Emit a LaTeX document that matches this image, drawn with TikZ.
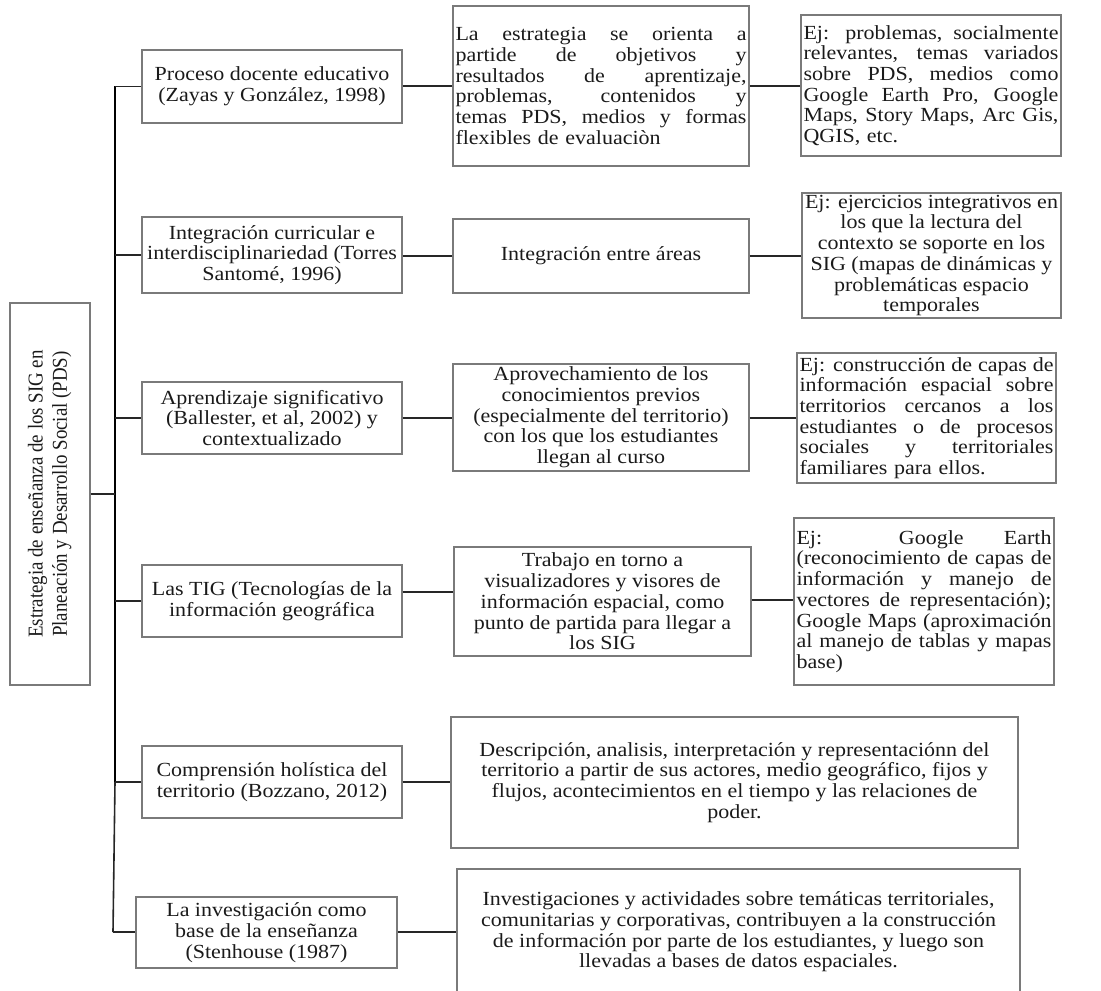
\documentclass[tikz,border=0pt]{standalone}
\usepackage{fontspec}
\usepackage{graphicx}
\setmainfont{Liberation Serif}[FakeStretch=1.1]
\newfontfamily\vfont{Liberation Serif}
\definecolor{boxgray}{HTML}{7A7A7A}
\definecolor{txt}{HTML}{1A1A1A}
\definecolor{linkc}{HTML}{262626}
\newcommand\jl[1]{\makebox[\hsize][s]{\spaceskip=0pt\xspaceskip=0pt #1}\\}
\tikzset{
  box/.style={draw=boxgray, line width=1.1pt, inner xsep=3pt, inner ysep=2pt,
    text=txt, font=\fontsize{20}{20.7}\selectfont, anchor=center, align=center},
  jbox/.style={box, inner xsep=2pt, align=left},
  link/.style={draw=linkc, line width=1.6pt},
  trunkline/.style={draw=black, line width=2.6pt}
}
\begin{document}
\begin{tikzpicture}[x=1pt,y=-1pt]
\useasboundingbox (0,0) rectangle (1101,991);
% root
\node[box, rotate=90, minimum width=382pt, minimum height=80pt,
  font=\vfont\fontsize{18.9}{21.6}\selectfont] (root) at (50,494)
  {\scalebox{1}[1.12]{\begin{tabular}{@{}c@{}}Estrategia de enseñanza de los SIG en\\Planeación y Desarrollo Social (PDS)\end{tabular}}};
% column 1
\node[box, minimum width=260pt, minimum height=73pt] (a1) at (272,86.5)
  {Proceso docente educativo\\(Zayas y González, 1998)};
\node[box, minimum width=260pt, minimum height=76pt] (a2) at (272,255)
  {Integración curricular e\\interdisciplinariedad (Torres\\Santomé, 1996)};
\node[box, minimum width=260pt, minimum height=72pt] (a3) at (272,418)
  {Aprendizaje significativo\\(Ballester, et al, 2002) y\\contextualizado};
\node[box, minimum width=260pt, minimum height=72pt] (a4) at (272,601)
  {Las TIG (Tecnologías de la\\información geográfica};
\node[box, minimum width=260pt, minimum height=72pt] (a5) at (272,782)
  {Comprensión holística del\\territorio (Bozzano, 2012)};
\node[box, minimum width=261pt, minimum height=71pt] (a6) at (266.5,932.5)
  {La investigación como\\base de la enseñanza\\(Stenhouse (1987)};
% column 2
\node[jbox, minimum width=296pt, minimum height=160pt, text width=291pt] (b1) at (601,86)
  {\jl{La estrategia se orienta a}
   \jl{partide de objetivos y}
   \jl{resultados de aprentizaje,}
   \jl{problemas, contenidos y}
   \jl{temas PDS, medios y formas}
   flexibles de evaluaciòn};
\node[box, minimum width=296pt, minimum height=74pt] (b2) at (601,256)
  {Integración entre áreas};
\node[box, minimum width=296pt, minimum height=107pt] (b3) at (601,417.5)
  {Aprovechamiento de los\\conocimientos previos\\(especialmente del territorio)\\con los que los estudiantes\\llegan al curso};
\node[box, minimum width=297pt, minimum height=109pt] (b4) at (602.5,601.5)
  {Trabajo en torno a\\visualizadores y visores de\\información espacial, como\\punto de partida para llegar a\\los SIG};
\node[box, minimum width=567pt, minimum height=131pt] (b5) at (734.5,782.5)
  {Descripción, analisis, interpretación y representaciónn del\\territorio a partir de sus actores, medio geográfico, fijos y\\flujos, acontecimientos en el tiempo y las relaciones de\\poder.};
\node[box, minimum width=563pt, minimum height=126pt] (b6) at (738.5,932)
  {Investigaciones y actividades sobre temáticas territoriales,\\comunitarias y corporativas, contribuyen a la construcción\\de información por parte de los estudiantes, y luego son\\llevadas a bases de datos espaciales.};
% column 3
\node[jbox, minimum width=260pt, minimum height=141pt, text width=255pt] (c1) at (931,85.5)
  {\jl{Ej: problemas, socialmente}
   \jl{relevantes, temas variados}
   \jl{sobre PDS, medios como}
   \jl{Google Earth Pro, Google}
   \jl{Maps, Story Maps, Arc Gis,}
   QGIS, etc.};
\node[box, minimum width=259pt, minimum height=125pt] (c2) at (931.5,255.5)
  {Ej: ejercicios integrativos en\\los que la lectura del\\contexto se soporte en los\\SIG (mapas de dinámicas y\\problemáticas espacio\\temporales};
\node[jbox, minimum width=259pt, minimum height=130pt, text width=254pt] (c3) at (926.5,418)
  {\jl{Ej: construcción de capas de}
   \jl{información espacial sobre}
   \jl{territorios cercanos a los}
   \jl{estudiantes o de procesos}
   \jl{sociales y territoriales}
   familiares para ellos.};
\node[jbox, minimum width=260pt, minimum height=167pt, text width=255pt] (c4) at (924,601.5)
  {\jl{Ej: Google Earth}
   \jl{(reconocimiento de capas de}
   \jl{información y manejo de}
   \jl{vectores de representación);}
   \jl{Google Maps (aproximación}
   \jl{al manejo de tablas y mapas}
   base)};
% trunk
\coordinate (ttop) at (115,86);
\coordinate (tmid) at (115,782);
\coordinate (tbot) at (113,932);
\draw[trunkline] (ttop) -- (tmid);
\draw[link] (tmid) -- (tbot);
\draw[link] (root.south) -- (root.south -| ttop);
\foreach \n in {a1,a2,a3,a4,a5}{\draw[link] (ttop |- \n.west) -- (\n.west);}
\draw[link] (tbot) -- (tbot -| a6.west);
% row links
\draw[link] (a1.east |- 0,86) -- (b1.west |- 0,86);
\draw[link] (b1.east |- 0,86) -- (c1.west |- 0,86);
\draw[link] (a2.east |- 0,256) -- (b2.west |- 0,256);
\draw[link] (b2.east |- 0,256) -- (c2.west |- 0,256);
\draw[link] (a3.east |- 0,418) -- (b3.west |- 0,418);
\draw[link] (b3.east |- 0,418) -- (c3.west |- 0,418);
\draw[link] (a4.east |- 0,592) -- (b4.west |- 0,592);
\draw[link] (b4.east |- 0,600) -- (c4.west |- 0,600);
\draw[link] (a5.east |- 0,782) -- (b5.west |- 0,782);
\draw[link] (a6.east |- 0,932) -- (b6.west |- 0,932);
\end{tikzpicture}
\end{document}
